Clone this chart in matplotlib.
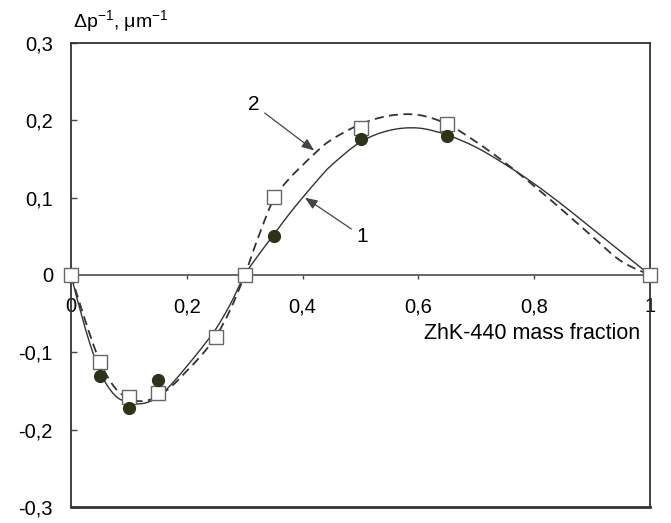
import matplotlib
matplotlib.use("Agg")
import matplotlib.pyplot as plt
from matplotlib.path import Path
from matplotlib.patches import PathPatch
import numpy as np

plt.rcParams['font.family'] = ['Liberation Sans', 'DejaVu Sans']
plt.rcParams['mathtext.fontset'] = 'custom'
plt.rcParams['mathtext.rm'] = 'Liberation Sans'
plt.rcParams['mathtext.it'] = 'Liberation Sans:italic'

# measured points
x1 = [0.05, 0.10, 0.15, 0.35, 0.50, 0.65]
y1 = [-0.130, -0.172, -0.136, 0.050, 0.176, 0.180]

x2 = [0.0, 0.05, 0.10, 0.15, 0.25, 0.30, 0.35, 0.50, 0.65, 1.0]
y2 = [0.0, -0.113, -0.158, -0.152, -0.080, 0.0, 0.101, 0.190, 0.195, 0.0]

# fitted curves
cx1 = [0, 0.025, 0.05, 0.075, 0.1, 0.125, 0.15, 0.175, 0.2, 0.225, 0.25, 0.275,
       0.3, 0.325, 0.35, 0.375, 0.4, 0.425, 0.45, 0.5, 0.55, 0.6, 0.65, 0.7,
       0.75, 0.8, 0.85, 0.9, 0.95, 1.0]
cy1 = [0, -0.07, -0.125, -0.155, -0.165, -0.166, -0.158, -0.14, -0.118, -0.095,
       -0.07, -0.038, 0, 0.027, 0.052, 0.077, 0.1, 0.122, 0.142, 0.172, 0.187,
       0.19, 0.181, 0.165, 0.143, 0.118, 0.09, 0.06, 0.03, 0]

cx2 = [0, 0.025, 0.05, 0.075, 0.1, 0.125, 0.15, 0.175, 0.2, 0.225, 0.25, 0.275,
       0.3, 0.325, 0.35, 0.375, 0.4, 0.425, 0.45, 0.5, 0.55, 0.6, 0.65, 0.7,
       0.75, 0.8, 0.85, 0.9, 0.95, 1.0]
cy2 = [0, -0.06, -0.112, -0.145, -0.16, -0.163, -0.157, -0.143, -0.124, -0.104,
       -0.08, -0.045, 0, 0.052, 0.098, 0.123, 0.142, 0.16, 0.175, 0.195, 0.206,
       0.207, 0.195, 0.172, 0.145, 0.115, 0.083, 0.05, 0.018, 0]

xticks = [0, 0.2, 0.4, 0.6, 0.8, 1.0]
xtick_labels = ['0', '0,2', '0,4', '0,6', '0,8', '1']
yticks = [-0.3, -0.2, -0.1, 0, 0.1, 0.2, 0.3]
ytick_labels = ['-0,3', '-0,2', '-0,1', '0', '0,1', '0,2', '0,3']


def smooth_path(xs, ys):
    # Catmull-Rom through the points, as cubic Bezier segments
    p = np.column_stack([xs, ys]).astype(float)
    ext = np.vstack([p[0], p, p[-1]])
    verts = [p[0]]
    codes = [Path.MOVETO]
    for i in range(1, len(ext) - 2):
        p0, p1, p2, p3 = ext[i - 1], ext[i], ext[i + 1], ext[i + 2]
        verts += [p1 + (p2 - p0) / 6, p2 - (p3 - p1) / 6, p2]
        codes += [Path.CURVE4] * 3
    return Path(verts, codes)


fig = plt.figure(figsize=(6.71, 5.23), dpi=100)
ax = fig.add_axes([71/671, 16/523, 579/671, 464/523])

line_col = '#333333'
ax.add_patch(PathPatch(smooth_path(cx1, cy1), fill=False, ec=line_col,
                       lw=1.0, zorder=3))
ax.add_patch(PathPatch(smooth_path(cx2, cy2), fill=False, ec=line_col,
                       lw=1.3, ls=(0, (5, 3)), zorder=3))

ax.plot(x2, y2, ls='none', marker='s', ms=10, mfc='white', mec='#666666',
        mew=1.0, zorder=4, clip_on=False)
ax.plot(x1, y1, ls='none', marker='o', ms=8.5, mfc='#2b3416', mec='#2b3416',
        zorder=5)

ax.set_xlim(0, 1)
ax.set_ylim(-0.3, 0.3)

# x axis runs through zero, frame kept all round
ax.spines['bottom'].set_position(('data', 0))
ax.spines['bottom'].set_color('#666666')
ax.spines['bottom'].set_linewidth(1.4)
for s in ['left', 'top', 'right']:
    ax.spines[s].set_color('#333333')
    ax.spines[s].set_linewidth(1.3)
ax.axhline(ax.get_ylim()[0], color='#333333', lw=2.0, clip_on=False)

ax.set_xticks(xticks)
ax.set_xticklabels(xtick_labels)
ax.set_yticks(yticks)
ax.set_yticklabels(ytick_labels)
ax.tick_params(axis='x', direction='out', length=3, width=1, color='#444444',
               pad=13, labelsize=14.5)
ax.tick_params(axis='y', direction='in', length=4.5, width=1, color='#444444',
               pad=13, labelsize=14.5)

ax.text(0.983, -0.076, 'ZhK-440 mass fraction', ha='right', va='center',
        fontsize=15.5)
ax.text(0.003, 1.035, 'Δp$^{-1}$, μm$^{-1}$', transform=ax.transAxes,
        ha='left', va='baseline', fontsize=14)

arrow = dict(arrowstyle='-|>,head_length=0.5,head_width=0.2', color='#444444',
             lw=0.9, shrinkA=2, shrinkB=0)
ax.annotate('2', xy=(0.42, 0.161), xytext=(0.316, 0.22), fontsize=15,
            ha='center', va='center', arrowprops=arrow)
ax.annotate('1', xy=(0.404, 0.1), xytext=(0.503, 0.05), fontsize=15,
            ha='center', va='center', arrowprops=arrow)

fig.savefig('out.png', dpi=100)
